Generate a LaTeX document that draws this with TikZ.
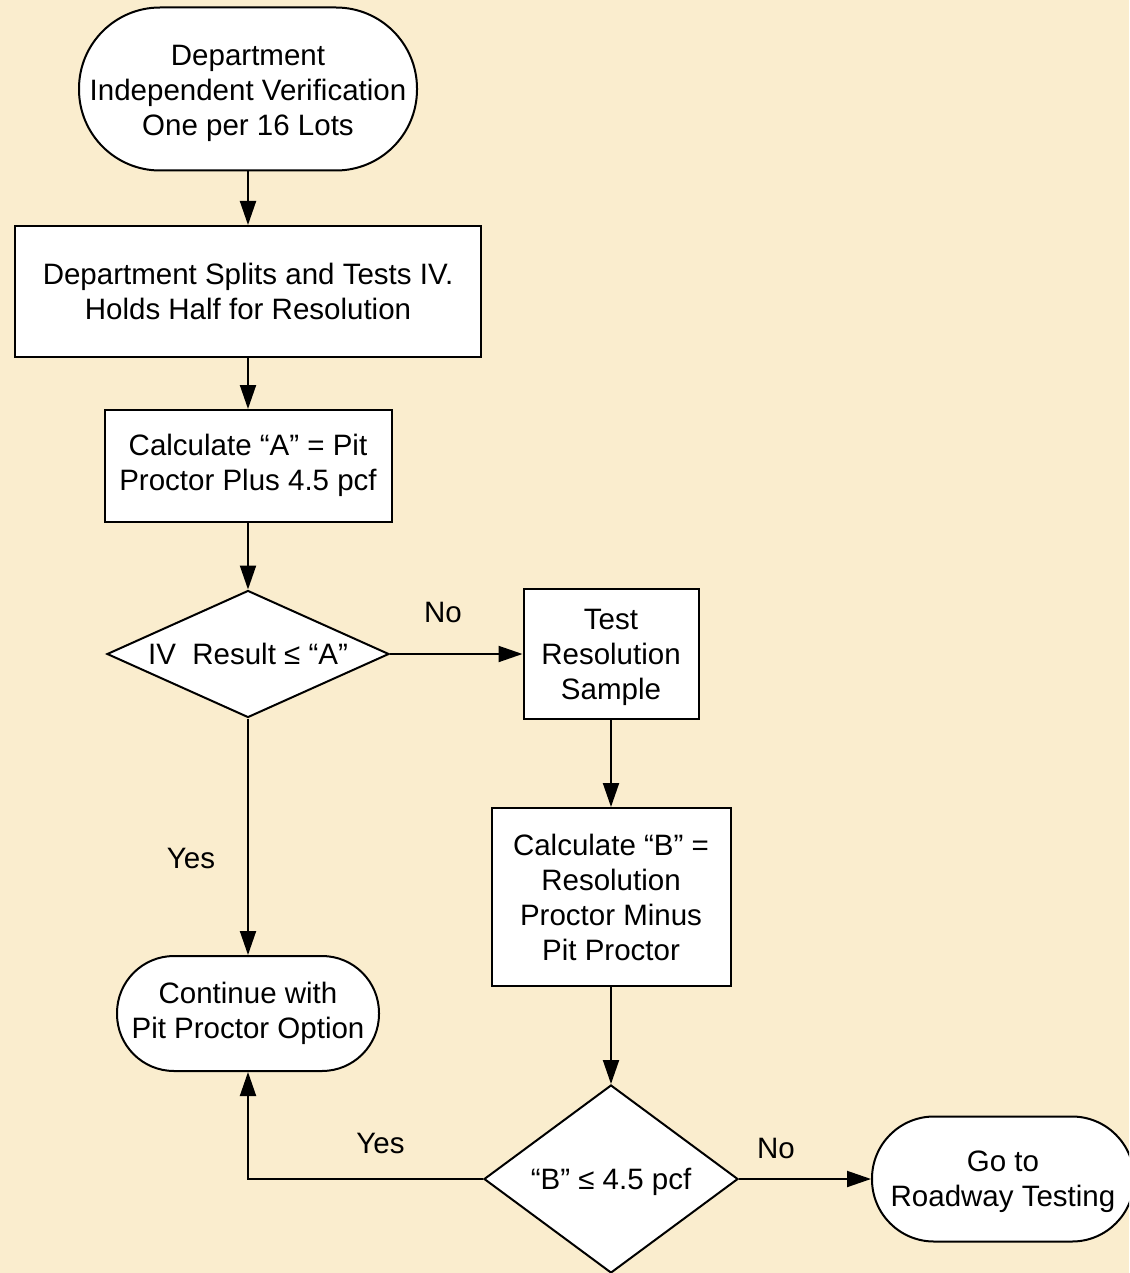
\documentclass[tikz,border=0pt]{standalone}
\usepackage{fontspec}
\setmainfont{Liberation Sans}
\usetikzlibrary{arrows.meta,shapes.geometric}
\definecolor{parch}{RGB}{250,237,206}
\tikzset{
  base/.style={draw=black,line width=2pt,fill=white,align=center,inner sep=0pt,
    font=\fontsize{29.5}{35}\selectfont},
  procbox/.style={base,rectangle},
  term/.style={base,rectangle},
  decis/.style={draw=black,line width=2pt,fill=white,diamond,inner sep=0pt},
  lbl/.style={font=\fontsize{29.5}{35}\selectfont,inner sep=0pt},
  conn/.style={line width=2pt,-{Triangle[length=24pt,width=16pt]}}
}
\begin{document}
\begin{tikzpicture}[x=1pt,y=-1pt]
\useasboundingbox (0,0) rectangle (1129,1273);
\fill[parch] (0,0) rectangle (1129,1273);
\clip (0,0) rectangle (1129,1273);
\node[term,rounded corners=81pt,minimum width=338pt,minimum height=163pt] (start) at (248,89) {};
\node[lbl,align=center] (startt) at (248,93)
  {Department\\Independent Verification\\One per 16 Lots};
\node[procbox,minimum width=466pt,minimum height=131pt] (split) at (248,291.5)
  {Department Splits and Tests IV.\\Holds Half for Resolution};
\node[procbox,minimum width=287pt,minimum height=112pt] (calcA) at (248,466)
  {\raisebox{-2pt}{\begin{tabular}{@{}c@{}}Calculate “A” = Pit\\[-0.2pt]Proctor Plus 4.5 pcf\end{tabular}}};
\node[decis,minimum width=282pt,minimum height=127pt] (d1) at (248,654) {};
\node[lbl] (d1t) at (d1.center) {IV\ \ Result ≤ “A”};
\node[procbox,minimum width=175pt,minimum height=130pt] (test) at (611,654) {};
\node[lbl,align=center] (testt) at (611,657) {Test\\Resolution\\Sample};
\node[procbox,minimum width=239pt,minimum height=178pt] (calcB) at (611,897)
  {Calculate “B” =\\Resolution\\Proctor Minus\\Pit Proctor};
\node[term,rounded corners=57pt,minimum width=262pt,minimum height=115pt] (cont) at (248,1013.5)
  {Continue with\\Pit Proctor Option};
\node[decis,minimum width=254pt,minimum height=188pt] (d2) at (611,1179) {};
\node[lbl] (d2t) at ([yshift=-3pt]d2.center) {“B” ≤ 4.5 pcf};
\node[term,rounded corners=62pt,minimum width=262pt,minimum height=125pt] (road) at (1003,1179) {};
\node[lbl,align=center] (roadt) at (1003,1182) {Go to\\Roadway Testing};
\draw[conn] (start.south) -- (split.north);
\draw[conn] (split.south) -- (calcA.north);
\draw[conn] (calcA.south) -- (d1.north);
\draw[conn] (d1.east) -- (test.west) node[lbl,pos=0.4,above=30pt] (no1) {No};
\draw[conn] (d1.south) -- (cont.north) node[lbl,pos=0.59,left=32pt] (yes1) {Yes};
\draw[conn] (test.south) -- (calcB.north);
\draw[conn] (calcB.south) -- (d2.north);
\draw[conn] (d2.west) -| (cont.south) node[lbl,pos=0.218,above=24pt] (yes2) {Yes};
\draw[conn] (d2.east) -- (road.west) node[lbl,pos=0.28,above=19pt] (no2) {No};
\end{tikzpicture}
\end{document}
